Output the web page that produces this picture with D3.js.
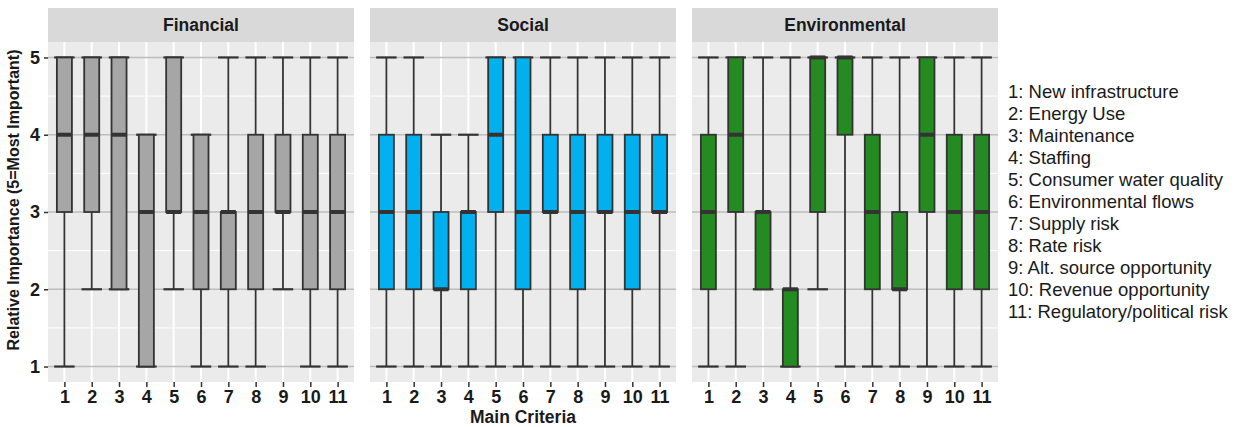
<!DOCTYPE html>
<html>
<head>
<meta charset="utf-8">
<script src="https://cdn.jsdelivr.net/npm/d3@7"></script>
<style>
  body { margin: 0; background: #fff; }
  text { font-family: "Liberation Sans", Arial, sans-serif; }
</style>
</head>
<body>
<svg width="1241" height="427"></svg>
<script>
// criteria 1..11
var criteria = ["1","2","3","4","5","6","7","8","9","10","11"];
var panels = ["Financial", "Social", "Environmental"];
var fills = ["#a6a6a6", "#00b0ef", "#238b22"];

// [min, q1, median, q3, max] per criterion
var financial = [
  [1,3,4,5,5],[2,3,4,5,5],[2,2,4,5,5],[1,1,3,4,4],[2,3,3,5,5],[1,2,3,4,4],
  [1,2,3,3,5],[1,2,3,4,5],[2,3,3,4,5],[1,2,3,4,5],[1,2,3,4,5]
];
var social = [
  [1,2,3,4,5],[1,2,3,4,5],[1,2,2,3,4],[1,2,3,3,4],[1,3,4,5,5],[1,2,3,5,5],
  [1,3,3,4,5],[1,2,3,4,5],[1,3,3,4,5],[1,2,3,4,5],[1,3,3,4,5]
];
var environmental = [
  [1,2,3,4,5],[1,3,4,5,5],[2,2,3,3,5],[1,1,2,2,5],[2,3,5,5,5],[1,4,5,5,5],
  [1,2,3,4,5],[1,2,2,3,5],[1,3,4,5,5],[1,2,3,4,5],[1,2,3,4,5]
];
var legendLabels = [
  "1: New infrastructure","2: Energy Use","3: Maintenance","4: Staffing",
  "5: Consumer water quality","6: Environmental flows","7: Supply risk",
  "8: Rate risk","9: Alt. source opportunity","10: Revenue opportunity",
  "11: Regulatory/political risk"
];
var yTicks = [1,2,3,4,5];

var svg = d3.select("svg");
var dataSets = [financial, social, environmental];
var panelX = [48, 370, 692], panelW = 306;
var plotTop = 42, plotBottom = 382, stripTop = 8;

var y = d3.scaleLinear().domain([0.8, 5.2]).range([plotBottom, plotTop]);

panels.forEach(function(name, p){
  var g = svg.append("g").attr("transform", "translate(" + panelX[p] + ",0)");
  var x = d3.scalePoint().domain(criteria).range([0, panelW]).padding(0.6);
  var step = x.step();

  // strip
  g.append("rect").attr("x", 0).attr("y", stripTop).attr("width", panelW)
    .attr("height", plotTop - stripTop).attr("fill", "#d9d9d9");
  g.append("text").attr("x", panelW / 2).attr("y", (stripTop + plotTop) / 2 + 6)
    .attr("text-anchor", "middle").attr("font-size", 17.5).attr("font-weight", "bold")
    .attr("fill", "#1a1a1a").text(name);

  // panel bg
  g.append("rect").attr("x", 0).attr("y", plotTop).attr("width", panelW)
    .attr("height", plotBottom - plotTop).attr("fill", "#ebebeb");

  // minor grid
  [1.5, 2.5, 3.5, 4.5].forEach(function(v){
    g.append("line").attr("x1", 0).attr("x2", panelW).attr("y1", y(v)).attr("y2", y(v))
      .attr("stroke", "#fff").attr("stroke-width", 1);
  });
  criteria.forEach(function(c){
    g.append("line").attr("x1", x(c)).attr("x2", x(c)).attr("y1", plotTop).attr("y2", plotBottom)
      .attr("stroke", "#fff").attr("stroke-width", 2);
  });
  yTicks.forEach(function(v){
    g.append("line").attr("x1", 0).attr("x2", panelW).attr("y1", y(v)).attr("y2", y(v))
      .attr("stroke", "#bdbdbd").attr("stroke-width", 1.5);
  });

  // boxes
  var bw = step * 0.55, cw = step * 0.75;
  var bx = g.selectAll(".bx").data(dataSets[p]).enter().append("g");
  bx.append("line")
    .attr("x1", function(d,i){ return x(criteria[i]); })
    .attr("x2", function(d,i){ return x(criteria[i]); })
    .attr("y1", function(d){ return y(d[0]); })
    .attr("y2", function(d){ return y(d[4]); })
    .attr("stroke", "#333").attr("stroke-width", 1.8);
  [0, 4].forEach(function(k){
    bx.append("line")
      .attr("x1", function(d,i){ return x(criteria[i]) - cw / 2; })
      .attr("x2", function(d,i){ return x(criteria[i]) + cw / 2; })
      .attr("y1", function(d){ return y(d[k]); })
      .attr("y2", function(d){ return y(d[k]); })
      .attr("stroke", "#333").attr("stroke-width", 2.2);
  });
  bx.append("rect")
    .attr("x", function(d,i){ return x(criteria[i]) - bw / 2; })
    .attr("width", bw)
    .attr("y", function(d){ return y(d[3]); })
    .attr("height", function(d){ return y(d[1]) - y(d[3]); })
    .attr("fill", fills[p]).attr("stroke", "#333").attr("stroke-width", 1.8);
  bx.append("line")
    .attr("x1", function(d,i){ return x(criteria[i]) - bw / 2; })
    .attr("x2", function(d,i){ return x(criteria[i]) + bw / 2; })
    .attr("y1", function(d){ return y(d[2]); })
    .attr("y2", function(d){ return y(d[2]); })
    .attr("stroke", "#333").attr("stroke-width", 4);

  // x axis
  var xa = g.append("g").attr("transform", "translate(0," + plotBottom + ")")
    .call(d3.axisBottom(x).tickSize(5).tickPadding(3));
  xa.select(".domain").remove();
  xa.selectAll("line").attr("stroke", "#333").attr("stroke-width", 1.5);
  xa.selectAll("text").attr("font-size", 18).attr("font-weight", "bold").attr("fill", "#1a1a1a")
    .attr("font-family", "Liberation Sans, Arial, sans-serif");

  if (p === 0) {
    var ya = g.append("g").call(d3.axisLeft(y).tickValues(yTicks).tickFormat(d3.format("d"))
      .tickSize(4).tickPadding(4));
    ya.select(".domain").remove();
    ya.selectAll("line").attr("stroke", "#333").attr("stroke-width", 1.5);
    ya.selectAll("text").attr("font-size", 18).attr("font-weight", "bold").attr("fill", "#1a1a1a")
      .attr("font-family", "Liberation Sans, Arial, sans-serif");
  }
});

// axis titles
svg.append("text").attr("x", (panelX[0] + panelX[2] + panelW) / 2).attr("y", 423)
  .attr("text-anchor", "middle").attr("font-size", 17.5).attr("font-weight", "bold")
  .attr("fill", "#1a1a1a").text("Main Criteria");
svg.append("text").attr("transform", "translate(19,200) rotate(-90)")
  .attr("text-anchor", "middle").attr("font-size", 16).attr("font-weight", "bold")
  .attr("fill", "#1a1a1a").text("Relative Importance (5=Most Important)");

// legend
svg.append("g").selectAll("text").data(legendLabels).enter().append("text")
  .attr("x", 1008).attr("y", function(d,i){ return 98 + i * 22; })
  .attr("font-size", 18.5).attr("fill", "#1a1a1a").text(function(d){ return d; });
</script>
</body>
</html>
